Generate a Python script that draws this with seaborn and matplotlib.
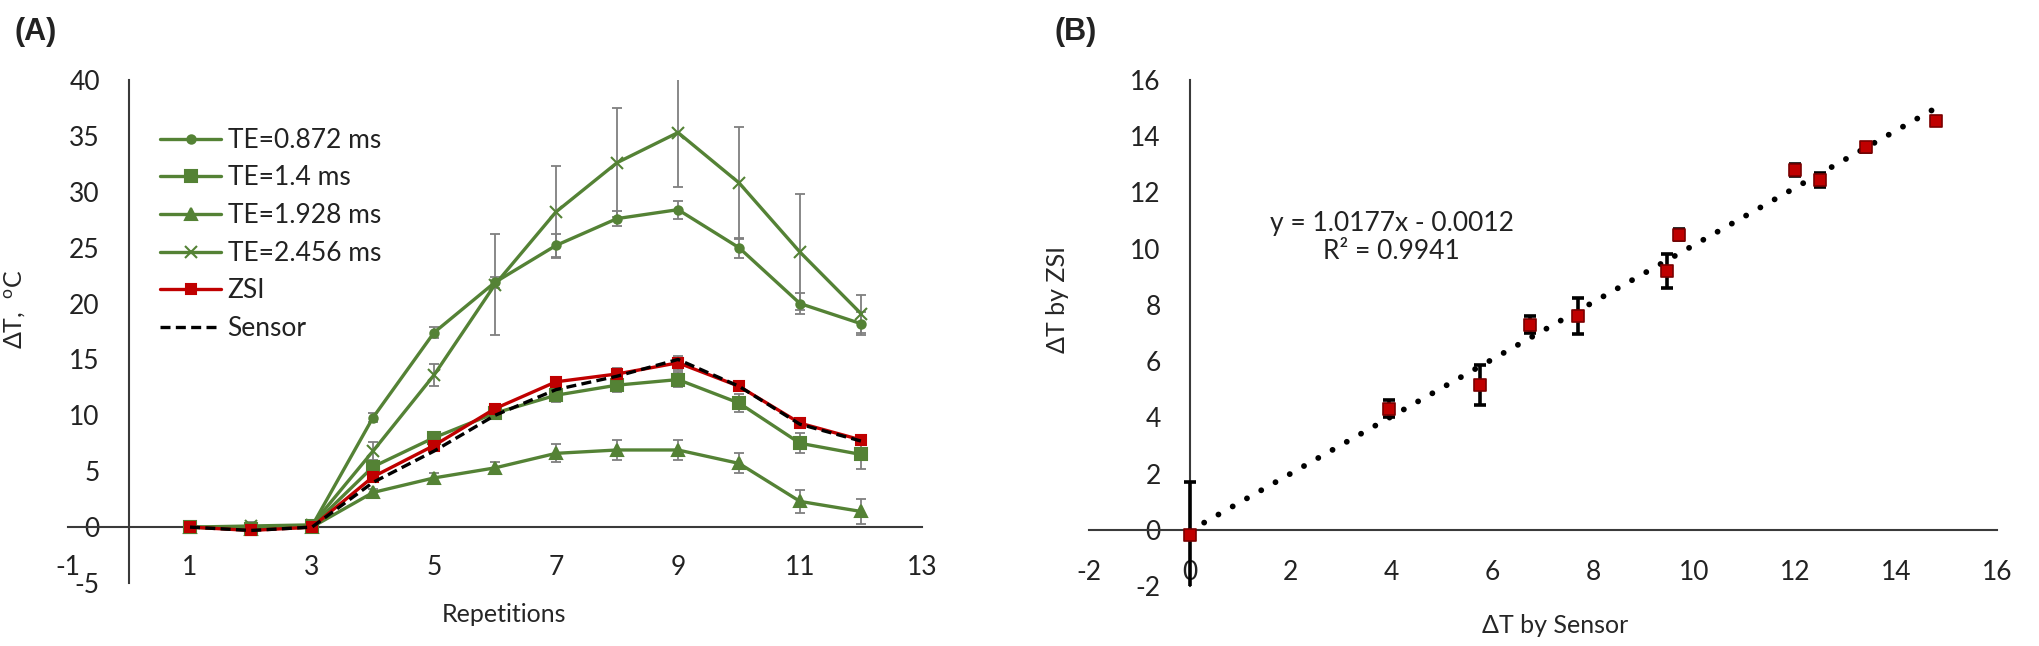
import matplotlib
matplotlib.use("Agg")
import matplotlib.pyplot as plt
import numpy as np
import pandas as pd
import seaborn as sns

# panel A: temperature change per repetition
reps = [1, 2, 3, 4, 5, 6, 7, 8, 9, 10, 11, 12]
te_0872 = [0, -0.1, 0.1, 9.8, 17.4, 21.9, 25.2, 27.6, 28.4, 25.0, 20.0, 18.2]
te_0872_err = [0.1, 0.1, 0.1, 0.4, 0.5, 0.5, 1.0, 0.7, 0.8, 0.9, 0.9, 1.0]
te_14 = [0, -0.2, 0.1, 5.4, 8.0, 10.2, 11.8, 12.7, 13.2, 11.1, 7.5, 6.5]
te_14_err = [0.1, 0.1, 0.1, 0.5, 0.4, 0.5, 0.6, 0.6, 0.7, 0.8, 0.9, 1.3]
te_1928 = [0, -0.2, 0.0, 3.1, 4.4, 5.3, 6.6, 6.9, 6.9, 5.7, 2.3, 1.4]
te_1928_err = [0.1, 0.1, 0.1, 0.3, 0.4, 0.5, 0.8, 0.9, 0.9, 0.9, 1.0, 1.1]
te_2456 = [0, 0.1, 0.2, 6.8, 13.6, 21.7, 28.2, 32.6, 35.3, 30.8, 24.6, 19.1]
te_2456_err = [0.1, 0.4, 0.2, 0.8, 1.0, 4.5, 4.1, 4.9, 4.85, 5.0, 5.2, 1.7]
zsi = [0, -0.3, 0.0, 4.5, 7.3, 10.6, 13.0, 13.7, 14.7, 12.6, 9.3, 7.8]
zsi_err = [0.1, 0.2, 0.1, 0.3, 0.3, 0.4, 0.4, 0.5, 0.6, 0.4, 0.3, 0.3]
sensor = [0, -0.3, 0.0, 4.0, 6.8, 10.0, 12.3, 13.5, 15.0, 12.6, 9.2, 7.7]

# panel B: ZSI vs sensor
sensor_dt = [0, 3.95, 5.75, 6.75, 7.7, 9.45, 9.7, 12.0, 12.5, 13.4, 14.8]
zsi_dt = [-0.2, 4.3, 5.15, 7.3, 7.6, 9.2, 10.5, 12.8, 12.45, 13.6, 14.55]
zsi_dt_err = [1.9, 0.3, 0.72, 0.3, 0.65, 0.6, 0.2, 0.2, 0.25, 0.15, 0.1]
fit_text = "y = 1.0177x - 0.0012\nR² = 0.9941"

GREEN = "#548235"
RED = "#C00000"
AXIS = "#3a3a3a"
TXT = "#222222"

sns.set_theme(style="white")
plt.rcParams["font.family"] = ["Lato", "DejaVu Sans"]
plt.rcParams["mathtext.fontset"] = "custom"
plt.rcParams["mathtext.rm"] = "Lato"
plt.rcParams["text.color"] = TXT
plt.rcParams["axes.unicode_minus"] = False

fig = plt.figure(figsize=(20.4, 6.46), dpi=100)
W, H = 2040, 646
axA = fig.add_axes([68 / W, (H - 583) / H, (922 - 68) / W, (583 - 80) / H])
axB = fig.add_axes([1089 / W, (H - 586) / H, (1997 - 1089) / W, (586 - 80) / H])

# ---- panel A ----
series = [
    ("TE=0.872 ms", te_0872, te_0872_err, "o", 6, GREEN),
    ("TE=1.4 ms", te_14, te_14_err, "s", 8, GREEN),
    ("TE=1.928 ms", te_1928, te_1928_err, "^", 8.5, GREEN),
    ("TE=2.456 ms", te_2456, te_2456_err, "x", 9, GREEN),
    ("ZSI", zsi, zsi_err, "s", 7, RED),
]
for name, vals, err, mk, ms, col in series:
    axA.errorbar(reps, vals, yerr=err, fmt="none", ecolor="#7f7f7f",
                 elinewidth=1.3, capsize=3.5, capthick=1.3, zorder=2)
    sns.lineplot(x=reps, y=vals, ax=axA, color=col, marker=mk,
                 markersize=ms, markeredgecolor=col, markeredgewidth=1.5,
                 linewidth=2.4, label=name, zorder=3)
sns.lineplot(x=reps, y=sensor, ax=axA, color="black", linewidth=2.4,
             linestyle=(0, (3, 1.6)), label="Sensor", zorder=4)

axA.set_xlim(-1, 13)
axA.set_ylim(-5, 40)
axA.set_xticks(range(-1, 14, 2))
axA.set_yticks(range(-5, 41, 5))
for s in ["top", "right"]:
    axA.spines[s].set_visible(False)
axA.spines["left"].set_position(("data", 0))
axA.spines["bottom"].set_position(("data", 0))
for s in ["left", "bottom"]:
    axA.spines[s].set_color(AXIS)
    axA.spines[s].set_linewidth(1.5)
axA.tick_params(axis="y", length=0, pad=21, labelsize=19, labelcolor=TXT)
axA.tick_params(axis="x", length=0, pad=20, labelsize=19, labelcolor=TXT)
axA.set_xlabel("Repetitions", fontsize=18)
axA.xaxis.set_label_coords(0.511, -0.04)
axA.set_ylabel(r"ΔT,  $^{\rm o}$C", fontsize=18)
axA.yaxis.set_label_coords(-0.047, 0.543)
axA.legend(loc="upper left", bbox_to_anchor=(0.108, 0.905), frameon=False,
           fontsize=19, handlelength=2.3, handletextpad=0.25,
           labelspacing=0.48, borderpad=0, borderaxespad=0)

# ---- panel B ----
sns.regplot(x=sensor_dt, y=zsi_dt, ax=axB, scatter=False, ci=None,
            truncate=True,
            line_kws=dict(color="black", linewidth=4.2,
                          linestyle=(0, (0.01, 2.8)),
                          dash_capstyle="round", zorder=2))
axB.errorbar(sensor_dt, zsi_dt, yerr=zsi_dt_err, fmt="none", ecolor="black",
             elinewidth=2.6, capsize=4, capthick=2.6, zorder=3)
sns.scatterplot(x=sensor_dt, y=zsi_dt, ax=axB, marker="s", s=80,
                color=RED, edgecolor="#7a0000", linewidth=1.2, zorder=4)
axB.text(4.0, 10.4, fit_text, ha="center", va="center", fontsize=19,
         linespacing=1.15)

axB.set_xlim(-2, 16)
axB.set_ylim(-2, 16)
axB.set_xticks(range(-2, 17, 2))
axB.set_yticks(range(-2, 17, 2))
for s in ["top", "right"]:
    axB.spines[s].set_visible(False)
axB.spines["left"].set_position(("data", 0))
axB.spines["bottom"].set_position(("data", 0))
for s in ["left", "bottom"]:
    axB.spines[s].set_color(AXIS)
    axB.spines[s].set_linewidth(1.5)
axB.tick_params(axis="both", direction="out", length=7, width=1.5,
                color=AXIS, labelsize=19, labelcolor=TXT)
axB.tick_params(axis="y", pad=14)
axB.tick_params(axis="x", pad=15)
axB.set_xlabel("ΔT by Sensor", fontsize=18)
axB.xaxis.set_label_coords(0.513, -0.055)
axB.set_ylabel("ΔT by ZSI", fontsize=18)
axB.yaxis.set_label_coords(-0.022, 0.567)

fig.text(15 / W, 1 - 32 / H, "(A)", fontsize=22, fontweight="bold",
         family=["Liberation Sans", "DejaVu Sans"], va="center")
fig.text(1055 / W, 1 - 32 / H, "(B)", fontsize=22, fontweight="bold",
         family=["Liberation Sans", "DejaVu Sans"], va="center")

fig.savefig("out.png", dpi=100)
